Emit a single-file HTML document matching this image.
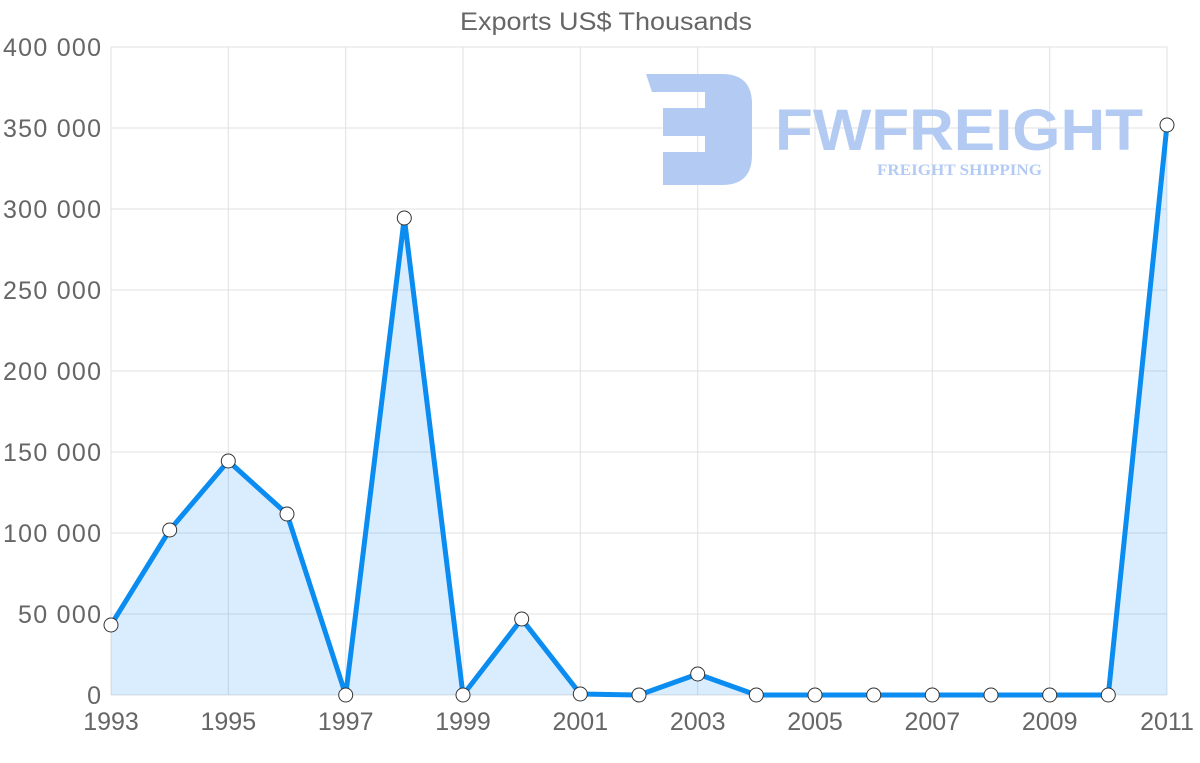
<!DOCTYPE html>
<html><head><meta charset="utf-8"><style>
html,body{margin:0;padding:0;background:#fff;}
svg{display:block;font-family:"Liberation Sans",sans-serif;}
</style></head><body>
<svg width="1200" height="763" viewBox="0 0 1200 763">
<text x="606" y="30" text-anchor="middle" font-size="25" fill="#666" textLength="292" lengthAdjust="spacingAndGlyphs">Exports US$ Thousands</text>
<g stroke="#e0e0e0" stroke-width="1">
<line x1="111" y1="47" x2="1167" y2="47"/><line x1="111" y1="128" x2="1167" y2="128"/>
<line x1="111" y1="209" x2="1167" y2="209"/><line x1="111" y1="290" x2="1167" y2="290"/>
<line x1="111" y1="371" x2="1167" y2="371"/><line x1="111" y1="452" x2="1167" y2="452"/>
<line x1="111" y1="533" x2="1167" y2="533"/><line x1="111" y1="614" x2="1167" y2="614"/>
<line x1="111" y1="695" x2="1167" y2="695"/>
<line x1="111" y1="47" x2="111" y2="695"/><line x1="228.3" y1="47" x2="228.3" y2="695"/>
<line x1="345.7" y1="47" x2="345.7" y2="695"/><line x1="463" y1="47" x2="463" y2="695"/>
<line x1="580.3" y1="47" x2="580.3" y2="695"/><line x1="697.7" y1="47" x2="697.7" y2="695"/>
<line x1="815" y1="47" x2="815" y2="695"/><line x1="932.3" y1="47" x2="932.3" y2="695"/>
<line x1="1049.7" y1="47" x2="1049.7" y2="695"/><line x1="1167" y1="47" x2="1167" y2="695"/>
</g>
<g fill="#b3cbf3">
<path d="M646 74 H722 Q752 74 752 104 V155 Q752 185 722 185 H663 V152 H705 V136 H663 V108 H705 V92 H652 Z"/>
<text x="775" y="150" font-size="58" font-weight="bold" textLength="368" lengthAdjust="spacingAndGlyphs">FWFREIGHT</text>
<text x="877" y="175" font-size="16" font-weight="bold" font-family="Liberation Serif,serif" textLength="165" lengthAdjust="spacingAndGlyphs">FREIGHT SHIPPING</text>
</g>
<g font-size="25" fill="#666" text-anchor="end" lengthAdjust="spacingAndGlyphs">
<text x="101" y="56" textLength="98">400 000</text><text x="101" y="137" textLength="98">350 000</text>
<text x="101" y="218" textLength="98">300 000</text><text x="101" y="299" textLength="98">250 000</text>
<text x="101" y="380" textLength="98">200 000</text><text x="101" y="461" textLength="98">150 000</text>
<text x="101" y="542" textLength="98">100 000</text><text x="101" y="623" textLength="83">50 000</text>
<text x="101" y="704">0</text>
</g>
<g font-size="25" fill="#666" text-anchor="middle">
<text x="111" y="730">1993</text><text x="228.3" y="730">1995</text><text x="345.7" y="730">1997</text>
<text x="463" y="730">1999</text><text x="580.3" y="730">2001</text><text x="697.7" y="730">2003</text>
<text x="815" y="730">2005</text><text x="932.3" y="730">2007</text><text x="1049.7" y="730">2009</text>
<text x="1167" y="730">2011</text>
</g>
<path d="M111 625 L169.7 530 L228.3 461 L287 514 L345.7 695 L404.3 218 L463 695 L521.7 619 L580.3 694 L639 695 L697.7 674 L756.3 695 L815 695 L873.7 695 L932.3 695 L991 695 L1049.7 695 L1108.3 695 L1167 125 L1167 695 L111 695 Z" fill="rgba(0,136,255,0.15)"/>
<path d="M111 625 L169.7 530 L228.3 461 L287 514 L345.7 695 L404.3 218 L463 695 L521.7 619 L580.3 694 L639 695 L697.7 674 L756.3 695 L815 695 L873.7 695 L932.3 695 L991 695 L1049.7 695 L1108.3 695 L1167 125" fill="none" stroke="#0a8cf0" stroke-width="5" stroke-linejoin="round"/>
<g fill="#fff" stroke="#333" stroke-width="1">
<circle cx="111" cy="625" r="7"/><circle cx="169.7" cy="530" r="7"/><circle cx="228.3" cy="461" r="7"/>
<circle cx="287" cy="514" r="7"/><circle cx="345.7" cy="695" r="7"/><circle cx="404.3" cy="218" r="7"/>
<circle cx="463" cy="695" r="7"/><circle cx="521.7" cy="619" r="7"/><circle cx="580.3" cy="694" r="7"/>
<circle cx="639" cy="695" r="7"/><circle cx="697.7" cy="674" r="7"/><circle cx="756.3" cy="695" r="7"/>
<circle cx="815" cy="695" r="7"/><circle cx="873.7" cy="695" r="7"/><circle cx="932.3" cy="695" r="7"/>
<circle cx="991" cy="695" r="7"/><circle cx="1049.7" cy="695" r="7"/><circle cx="1108.3" cy="695" r="7"/>
<circle cx="1167" cy="125" r="7"/>
</g>
</svg>
</body></html>
